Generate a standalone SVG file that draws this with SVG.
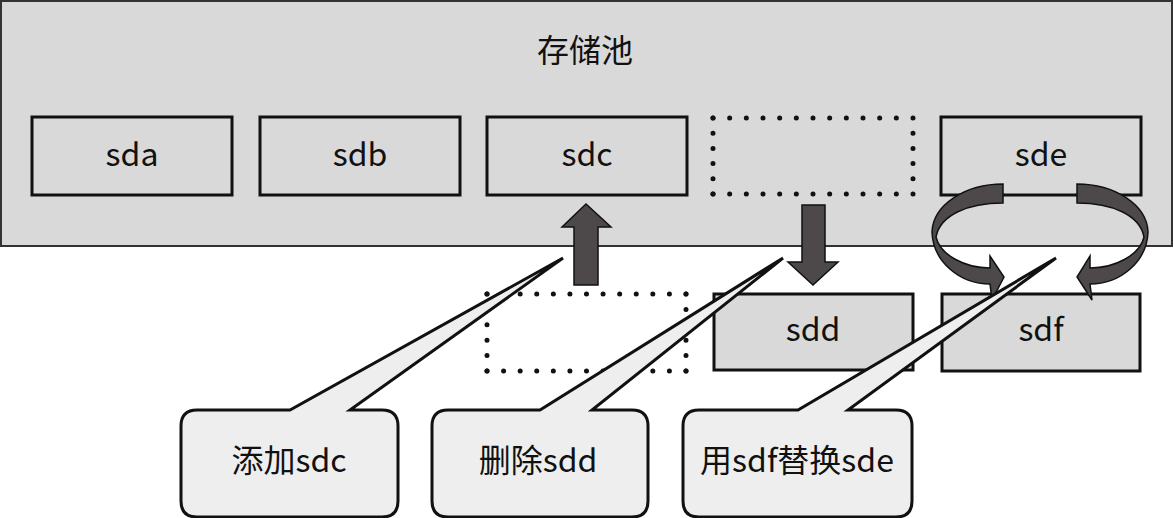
<svg xmlns="http://www.w3.org/2000/svg" width="1173" height="518" viewBox="0 0 1173 518">
<style>
text{font-family:"Noto Sans CJK SC","Noto Sans",sans-serif;fill:#111;text-anchor:middle}
.lbl{font-size:32px}
.box{fill:#d9d9d9;stroke:#111;stroke-width:3}
.dot{fill:none;stroke:#111;stroke-width:5;stroke-linecap:round}
.arr{fill:#4d494a;stroke:#111;stroke-width:1.5;stroke-linejoin:miter}
.call{fill:#eeeeee;stroke:#111;stroke-width:3;stroke-linejoin:miter}
</style>
<rect width="1173" height="518" fill="#ffffff"/>
<g id="pool">
<rect x="1" y="1" width="1171" height="245" fill="#d9d9d9" stroke="#333" stroke-width="2"/>
<text class="lbl" x="585" y="62">存储池</text>
</g>
<g id="sda"><rect class="box" x="32" y="117" width="200" height="78"/><text class="lbl" x="132" y="166">sda</text></g>
<g id="sdb"><rect class="box" x="260" y="117" width="200" height="78"/><text class="lbl" x="360" y="166">sdb</text></g>
<g id="sdc"><rect class="box" x="487" y="117" width="200" height="78"/><text class="lbl" x="587" y="166">sdc</text></g>
<g id="empty-slot">
<line class="dot" x1="713" y1="118" x2="913" y2="118" stroke-dasharray="0 16.667"/>
<line class="dot" x1="713" y1="194" x2="913" y2="194" stroke-dasharray="0 16.667"/>
<line class="dot" x1="713" y1="118" x2="713" y2="194" stroke-dasharray="0 15.2"/>
<line class="dot" x1="913" y1="118" x2="913" y2="194" stroke-dasharray="0 15.2"/>
</g>
<g id="sde"><rect class="box" x="941" y="117" width="200" height="78"/><text class="lbl" x="1041" y="166">sde</text></g>
<g id="sdc-slot">
<line class="dot" x1="487" y1="294" x2="686" y2="294" stroke-dasharray="0 16.583"/>
<line class="dot" x1="487" y1="371" x2="686" y2="371" stroke-dasharray="0 16.583"/>
<line class="dot" x1="487" y1="294" x2="487" y2="371" stroke-dasharray="0 15.4"/>
<line class="dot" x1="686" y1="294" x2="686" y2="371" stroke-dasharray="0 15.4"/>
</g>
<g id="sdd"><rect class="box" x="714" y="294" width="199" height="76"/><text class="lbl" x="813" y="341">sdd</text></g>
<g id="sdf"><rect class="box" x="942" y="294" width="198" height="77"/><text class="lbl" x="1041" y="341">sdf</text></g>
<g id="connectors">
<path class="arr" d="M574,285 L574,227 L562,227 L586,204 L611,227 L598,227 L598,285 Z"/>
<path class="arr" d="M802,205 L825,205 L825,262 L838,262 L813,285 L788,262 L802,262 Z"/>
<path class="arr" d="M1003,184 C965,184 933,205 932,232 C933,262 960,284 990,284 L992,300 L1004,277 L990,256 L990,268 C965,268 940,255 936,237 C940,215 968,203 1003,203 Z"/>
<path class="arr" d="M1077,184 C1115,184 1147,205 1148,232 C1147,262 1120,284 1090,284 L1092,300 L1077,277 L1090,256 L1090,268 C1115,268 1140,255 1144,237 C1140,215 1112,203 1077,203 Z"/>
</g>
<g id="callout-add">
<path class="call" d="M197,410 L290,410 L563,258 L350,410 L382,410 Q398,410 398,426 L398,501 Q398,517 382,517 L197,517 Q181,517 181,501 L181,426 Q181,410 197,410 Z"/>
<text class="lbl" x="289" y="472">添加sdc</text>
</g>
<g id="callout-del">
<path class="call" d="M448,410 L540,410 L783,258 L592,410 L632,410 Q648,410 648,426 L648,501 Q648,517 632,517 L448,517 Q432,517 432,501 L432,426 Q432,410 448,410 Z"/>
<text class="lbl" x="538" y="472">删除sdd</text>
</g>
<g id="callout-replace">
<path class="call" d="M699,410 L798,410 L1056,258 L848,410 L896,410 Q912,410 912,426 L912,501 Q912,517 896,517 L699,517 Q683,517 683,501 L683,426 Q683,410 699,410 Z"/>
<text class="lbl" x="797" y="472">用sdf替换sde</text>
</g>
</svg>
